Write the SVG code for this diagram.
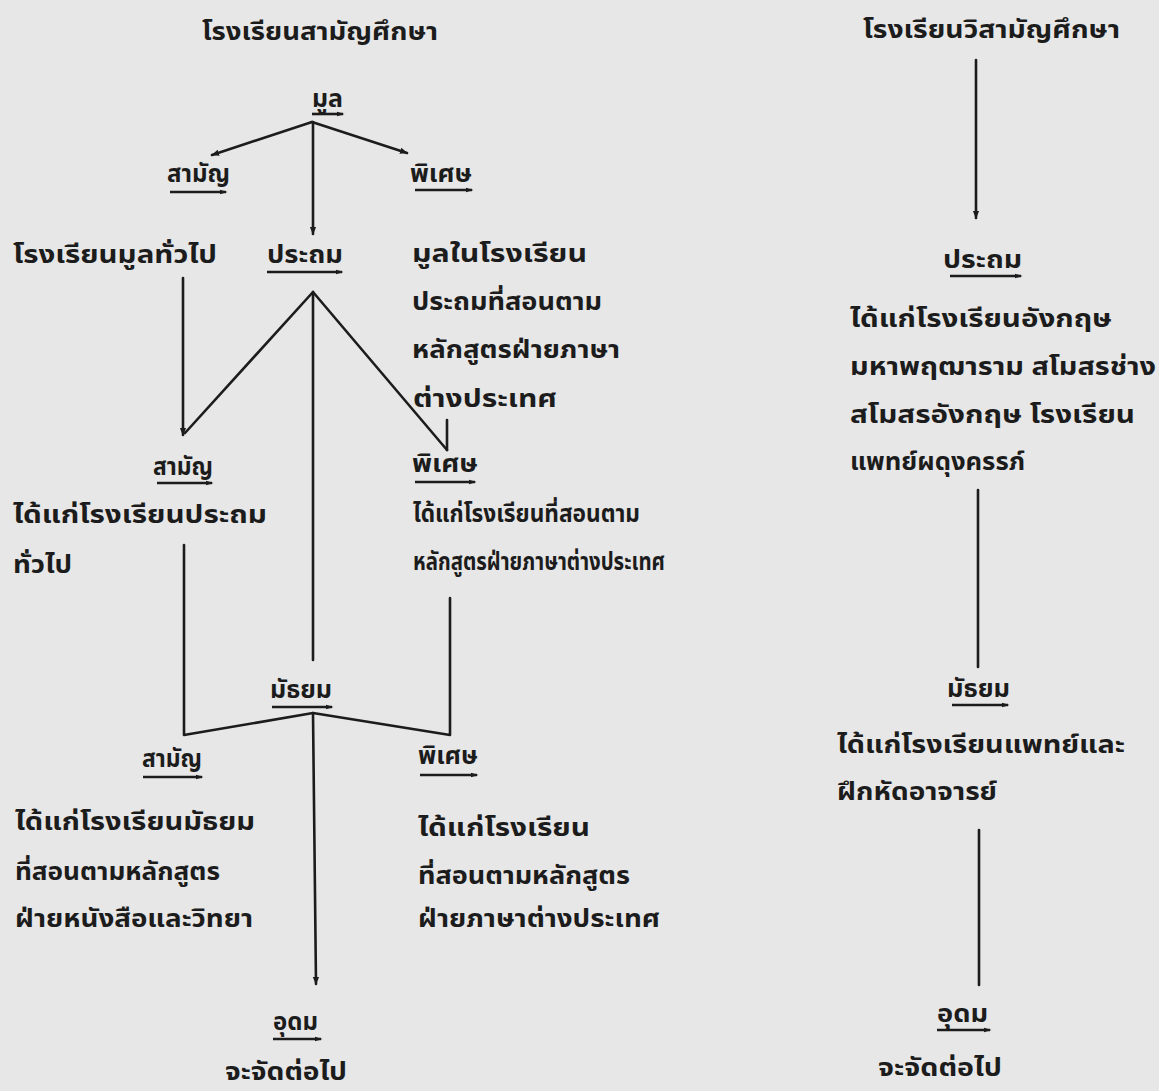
<svg xmlns="http://www.w3.org/2000/svg" width="1159" height="1091" viewBox="0 0 1159 1091">
<defs>
<style>
text{font-family:"Noto Sans Thai","Noto Sans","DejaVu Sans",sans-serif;font-weight:bold;font-size:24px;fill:#1c1c1c}
.ln{stroke:#1c1c1c;stroke-width:2.6;fill:none;stroke-linecap:round;stroke-linejoin:round}
.ul{stroke:#1c1c1c;stroke-width:2.6;fill:none;marker-end:url(#ua)}
</style>
<marker id="ua" viewBox="0 0 10 10" refX="8" refY="5" markerWidth="3" markerHeight="3" orient="auto"><path d="M0,2 L10,5 L0,8 z" fill="#1c1c1c"/></marker>
<marker id="ah" viewBox="0 0 10 10" refX="9" refY="5" markerWidth="3" markerHeight="3" orient="auto"><path d="M0,1 L10,5 L0,9 z" fill="#1c1c1c"/></marker>
</defs>
<rect width="1159" height="1091" fill="#e7e7e7"/>
<g id="connectors">
<path class="ln" d="M312,122 L212,155" marker-end="url(#ah)"/>
<path class="ln" d="M312,122 L407,153" marker-end="url(#ah)"/>
<path class="ln" d="M313,122 L313,234" marker-end="url(#ah)"/>
<path class="ln" d="M183,278 L183,435" marker-end="url(#ah)"/>
<path class="ln" d="M185,433 L313,292 L447,450"/>
<path class="ln" d="M447,420 L447,450"/>
<path class="ln" d="M313,292 L313,660"/>
<path class="ln" d="M184,545 L184,735 L313,713 L450,735 L450,598"/>
<path class="ln" d="M313,713 L316,984" marker-end="url(#ah)"/>
<path class="ln" d="M976,60 L976,218" marker-end="url(#ah)"/>
<path class="ln" d="M978,490 L978,667"/>
<path class="ln" d="M979,830 L979,985"/>
</g>
<g id="title-left"><text x="202" y="40" textLength="236" lengthAdjust="spacingAndGlyphs">โรงเรียนสามัญศึกษา</text></g>
<g id="mul"><text x="312" y="107" textLength="31" lengthAdjust="spacingAndGlyphs">มูล</text><path class="ul" d="M312,114 L343,114"/></g>
<g id="samanya1"><text x="167" y="182" textLength="63" lengthAdjust="spacingAndGlyphs">สามัญ</text><path class="ul" d="M170,192 L226,192"/></g>
<g id="phiset1"><text x="410" y="182" textLength="62" lengthAdjust="spacingAndGlyphs">พิเศษ</text><path class="ul" d="M415,190 L472,190"/></g>
<g id="mul-general"><text x="13" y="263" textLength="204" lengthAdjust="spacingAndGlyphs">โรงเรียนมูลทั่วไป</text></g>
<g id="prathom"><text x="267" y="263" textLength="76" lengthAdjust="spacingAndGlyphs">ประถม</text><path class="ul" d="M267,272 L342,272"/></g>
<g id="mul-special">
<text x="412" y="262" textLength="175" lengthAdjust="spacingAndGlyphs">มูลในโรงเรียน</text>
<text x="412" y="310" textLength="190" lengthAdjust="spacingAndGlyphs">ประถมที่สอนตาม</text>
<text x="412" y="358" textLength="208" lengthAdjust="spacingAndGlyphs">หลักสูตรฝ่ายภาษา</text>
<text x="413" y="407" textLength="144" lengthAdjust="spacingAndGlyphs">ต่างประเทศ</text>
</g>
<g id="samanya2"><text x="153" y="475" textLength="60" lengthAdjust="spacingAndGlyphs">สามัญ</text><path class="ul" d="M157,483 L212,483"/></g>
<g id="phiset2"><text x="412" y="472" textLength="66" lengthAdjust="spacingAndGlyphs">พิเศษ</text><path class="ul" d="M415,482 L475,482"/></g>
<g id="prathom-general">
<text x="13" y="523" textLength="254" lengthAdjust="spacingAndGlyphs">ได้แก่โรงเรียนประถม</text>
<text x="13" y="573" textLength="59" lengthAdjust="spacingAndGlyphs">ทั่วไป</text>
</g>
<g id="prathom-special">
<text x="413" y="522" textLength="227" lengthAdjust="spacingAndGlyphs">ได้แก่โรงเรียนที่สอนตาม</text>
<text x="413" y="570" textLength="252" lengthAdjust="spacingAndGlyphs">หลักสูตรฝ่ายภาษาต่างประเทศ</text>
</g>
<g id="mathayom"><text x="270" y="698" textLength="62" lengthAdjust="spacingAndGlyphs">มัธยม</text><path class="ul" d="M272,707 L332,707"/></g>
<g id="samanya3"><text x="142" y="767" textLength="60" lengthAdjust="spacingAndGlyphs">สามัญ</text><path class="ul" d="M143,777 L202,777"/></g>
<g id="phiset3"><text x="418" y="764" textLength="60" lengthAdjust="spacingAndGlyphs">พิเศษ</text><path class="ul" d="M420,775 L477,775"/></g>
<g id="mathayom-general">
<text x="15" y="830" textLength="240" lengthAdjust="spacingAndGlyphs">ได้แก่โรงเรียนมัธยม</text>
<text x="15" y="880" textLength="205" lengthAdjust="spacingAndGlyphs">ที่สอนตามหลักสูตร</text>
<text x="15" y="927" textLength="238" lengthAdjust="spacingAndGlyphs">ฝ่ายหนังสือและวิทยา</text>
</g>
<g id="mathayom-special">
<text x="418" y="836" textLength="172" lengthAdjust="spacingAndGlyphs">ได้แก่โรงเรียน</text>
<text x="418" y="884" textLength="212" lengthAdjust="spacingAndGlyphs">ที่สอนตามหลักสูตร</text>
<text x="418" y="927" textLength="242" lengthAdjust="spacingAndGlyphs">ฝ่ายภาษาต่างประเทศ</text>
</g>
<g id="udom"><text x="273" y="1030" textLength="45" lengthAdjust="spacingAndGlyphs">อุดม</text><path class="ul" d="M273,1039 L321,1039"/></g>
<g id="later"><text x="225" y="1080" textLength="122" lengthAdjust="spacingAndGlyphs">จะจัดต่อไป</text></g>
<g id="title-right"><text x="863" y="38" textLength="257" lengthAdjust="spacingAndGlyphs">โรงเรียนวิสามัญศึกษา</text></g>
<g id="r-prathom"><text x="943" y="268" textLength="79" lengthAdjust="spacingAndGlyphs">ประถม</text><path class="ul" d="M950,276 L1021,276"/></g>
<g id="r-prathom-desc">
<text x="850" y="327" textLength="262" lengthAdjust="spacingAndGlyphs">ได้แก่โรงเรียนอังกฤษ</text>
<text x="850" y="375" textLength="306" lengthAdjust="spacingAndGlyphs">มหาพฤฒาราม สโมสรช่าง</text>
<text x="850" y="423" textLength="285" lengthAdjust="spacingAndGlyphs">สโมสรอังกฤษ โรงเรียน</text>
<text x="850" y="470" textLength="175" lengthAdjust="spacingAndGlyphs">แพทย์ผดุงครรภ์</text>
</g>
<g id="r-mathayom"><text x="947" y="697" textLength="63" lengthAdjust="spacingAndGlyphs">มัธยม</text><path class="ul" d="M952,705 L1008,705"/></g>
<g id="r-mathayom-desc">
<text x="837" y="753" textLength="288" lengthAdjust="spacingAndGlyphs">ได้แก่โรงเรียนแพทย์และ</text>
<text x="837" y="800" textLength="160" lengthAdjust="spacingAndGlyphs">ฝึกหัดอาจารย์</text>
</g>
<g id="r-udom"><text x="937" y="1022" textLength="51" lengthAdjust="spacingAndGlyphs">อุดม</text><path class="ul" d="M937,1030 L990,1030"/></g>
<g id="r-later"><text x="878" y="1076" textLength="124" lengthAdjust="spacingAndGlyphs">จะจัดต่อไป</text></g>
</svg>
